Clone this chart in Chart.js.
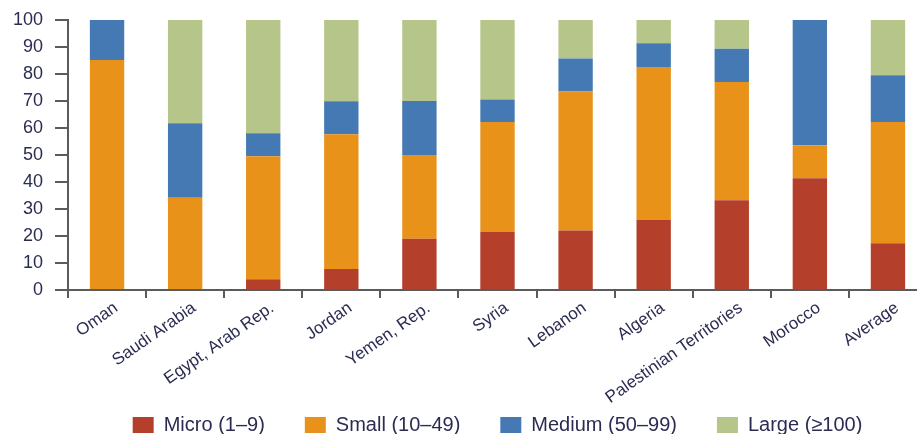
<!DOCTYPE html>
<html>
<head>
<meta charset="utf-8">
<script src="https://cdn.jsdelivr.net/npm/chart.js@4/dist/chart.umd.min.js"></script>
<style>
  html, body { margin: 0; padding: 0; background: #fff; overflow: hidden; }
  #wrap { position: relative; width: 927px; height: 434px; }
</style>
</head>
<body>
<div id="wrap"><canvas id="firmSizeChart"></canvas></div>
<script>
// ── Data: share of firms by size class (%) ──
const countries = [
  'Oman', 'Saudi Arabia', 'Egypt, Arab Rep.', 'Jordan', 'Yemen, Rep.', 'Syria',
  'Lebanon', 'Algeria', 'Palestinian Territories', 'Morocco', 'Average'
];
const micro  = [0,    0,    4,    7.8,  19,  21.5, 22,   26,   33.2, 41.4, 17.3];
const small  = [85.2, 34.2, 45.5, 49.9, 31,  40.7, 51.5, 56.6, 43.8, 12.2, 44.9];
const medium = [14.8, 27.5, 8.5,  12.2, 20,  8.3,  12.2, 8.8,  12.3, 46.4, 17.3];
const large  = [0,    38.3, 42,   30.1, 30,  29.5, 14.3, 8.6,  10.7, 0,    20.5];
const yTicks = [0, 10, 20, 30, 40, 50, 60, 70, 80, 90, 100];

const INK  = '#2b2c52';
const AXIS = '#5b5b5b';
const FONT = "'Liberation Sans', Arial, sans-serif";

// Legend sits under the plot, centred on the chart area
const legendPlace = {
  id: 'legendPlace',
  afterLayout(chart) {
    const lg = chart.legend;
    if (!lg) return;
    lg.left   = chart.chartArea.left;
    lg.right  = chart.chartArea.right;
    lg.top    = 375;
    lg.bottom = chart.height;
    lg.width  = lg.right - lg.left;
    lg.height = lg.bottom - lg.top;
  }
};

const bar = (label, data, color) => ({
  label, data,
  backgroundColor: color,
  borderWidth: 0,
  categoryPercentage: 1,
  barPercentage: 0.44,
});

new Chart(document.getElementById('firmSizeChart'), {
  type: 'bar',
  data: {
    labels: countries,
    datasets: [
      bar('Micro (1\u20139)',     micro,  '#b4402b'),
      bar('Small (10\u201349)',   small,  '#e8921a'),
      bar('Medium (50\u201399)',  medium, '#4479b3'),
      bar('Large (\u2265100)',    large,  '#b6c589'),
    ],
  },
  plugins: [legendPlace],
  options: {
    responsive: true,
    maintainAspectRatio: false,
    animation: false,
    layout: { padding: { top: 10, right: 0, left: 0, bottom: 0 } },
    plugins: {
      tooltip: { enabled: false },
      legend: {
        position: 'bottom',
        maxHeight: 30,
        labels: {
          boxWidth: 21,
          boxHeight: 16,
          padding: 40,
          color: INK,
          font: { family: FONT, size: 20 },
        },
      },
    },
    scales: {
      x: {
        stacked: true,
        afterFit: s => { s.height = 114; },
        border: { display: true, color: AXIS, width: 2 },
        grid: {
          offset: true,
          drawOnChartArea: false,
          drawTicks: true,
          tickLength: 8,
          color: AXIS,
          lineWidth: 2,
        },
        ticks: {
          autoSkip: false,
          minRotation: 35,
          maxRotation: 35,
          labelOffset: 9,
          padding: 0,
          color: INK,
          font: { family: FONT, size: 17 },
        },
      },
      y: {
        stacked: true,
        min: 0,
        max: 100,
        afterFit: s => { s.width = 68; },
        afterBuildTicks: s => { s.ticks = yTicks.map(v => ({ value: v })); },
        border: { display: true, color: AXIS, width: 2 },
        grid: {
          drawOnChartArea: false,
          drawTicks: true,
          tickLength: 13,
          color: AXIS,
          lineWidth: 2,
        },
        ticks: {
          padding: 12,
          color: INK,
          // tight line height keeps the top tick label from pushing the plot down
          font: { family: FONT, size: 18, lineHeight: 0.88 },
        },
      },
    },
  },
});
</script>
</body>
</html>
